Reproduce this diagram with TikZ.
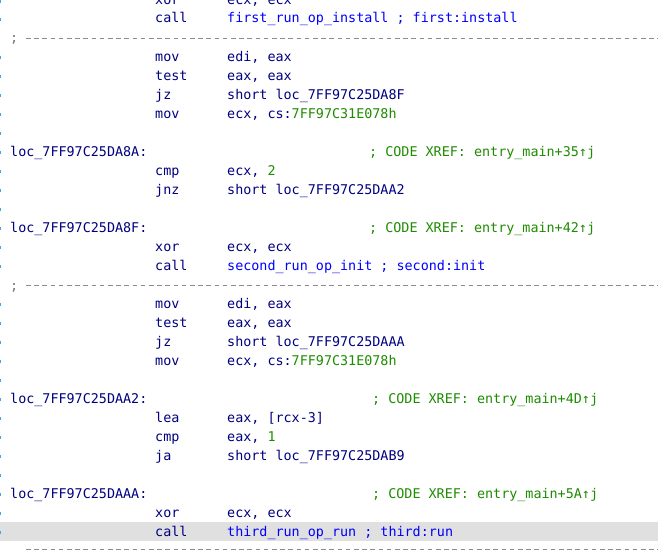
\documentclass[tikz,border=0pt]{standalone}
\usepackage{fontspec}
\setmonofont{DejaVu Sans Mono}
\definecolor{ins}{HTML}{000080}
\definecolor{nm}{HTML}{0000FF}
\definecolor{cm}{HTML}{1E8C00}
\definecolor{hl}{HTML}{E0E0E0}
\definecolor{dot}{HTML}{3FA9E0}
\begin{document}
\begin{tikzpicture}[x=1pt,y=-1pt,
  t/.style={anchor=base west,inner sep=0pt,font=\ttfamily\fontsize{13.4}{14}\selectfont,text=ins},
  sep/.style={draw=black!45,dash pattern=on 4.5pt off 3.7pt,line width=0.7pt}]
\useasboundingbox[fill=white] (0,0) rectangle (658,551);
\fill[hl] (0,522) rectangle (658,541);
% dots at left edge
\foreach \y in {0,18,56,75,94,113,132,151,170,189,208,227,246,265,303,322,341,360,379,398,417,436,455,474,493,512,531}
  \fill[dot] (0,\y) rectangle (1.2,\y+3);
\newcommand{\I}[4]{\node[t] (m#1) at (155,#1+5) {#2}; \node[t] (o#1) at (227,#1+5) {#3#4};}
\I{0}{xor}{ecx, ecx}{}
\I{18}{call}{\textcolor{nm}{first\_run\_op\_install ; first:install}}{}
\node[t,text=black!55] (s38) at (10,43) {;}; \draw[sep] (26,38) -- (658,38);
\I{56}{mov}{edi, eax}{}
\I{75}{test}{eax, eax}{}
\I{94}{jz}{short loc\_7FF97C25DA8F}{}
\I{113}{mov}{ecx, cs:}{\textcolor{cm}{7FF97C31E078h}}
\node[t] (l151) at (10,156) {loc\_7FF97C25DA8A:};
\node[t,text=cm] (c151) at (369,156) {; CODE XREF: entry\_main+35↑j};
\I{170}{cmp}{ecx, }{\textcolor{cm}{2}}
\I{189}{jnz}{short loc\_7FF97C25DAA2}{}
\node[t] (l227) at (10,232) {loc\_7FF97C25DA8F:};
\node[t,text=cm] (c227) at (369,232) {; CODE XREF: entry\_main+42↑j};
\I{246}{xor}{ecx, ecx}{}
\I{265}{call}{\textcolor{nm}{second\_run\_op\_init ; second:init}}{}
\node[t,text=black!55] (s285) at (10,290) {;}; \draw[sep] (26,285) -- (658,285);
\I{303}{mov}{edi, eax}{}
\I{322}{test}{eax, eax}{}
\I{341}{jz}{short loc\_7FF97C25DAAA}{}
\I{360}{mov}{ecx, cs:}{\textcolor{cm}{7FF97C31E078h}}
\node[t] (l398) at (10,403) {loc\_7FF97C25DAA2:};
\node[t,text=cm] (c398) at (372,403) {; CODE XREF: entry\_main+4D↑j};
\I{417}{lea}{eax, [rcx-3]}{}
\I{436}{cmp}{eax, }{\textcolor{cm}{1}}
\I{455}{ja}{short loc\_7FF97C25DAB9}{}
\node[t] (l493) at (10,498) {loc\_7FF97C25DAAA:};
\node[t,text=cm] (c493) at (372,498) {; CODE XREF: entry\_main+5A↑j};
\I{512}{xor}{ecx, ecx}{}
\I{531}{call}{\textcolor{nm}{third\_run\_op\_run ; third:run}}{}
\draw[sep] (26,549) -- (658,549);
\end{tikzpicture}
\end{document}
